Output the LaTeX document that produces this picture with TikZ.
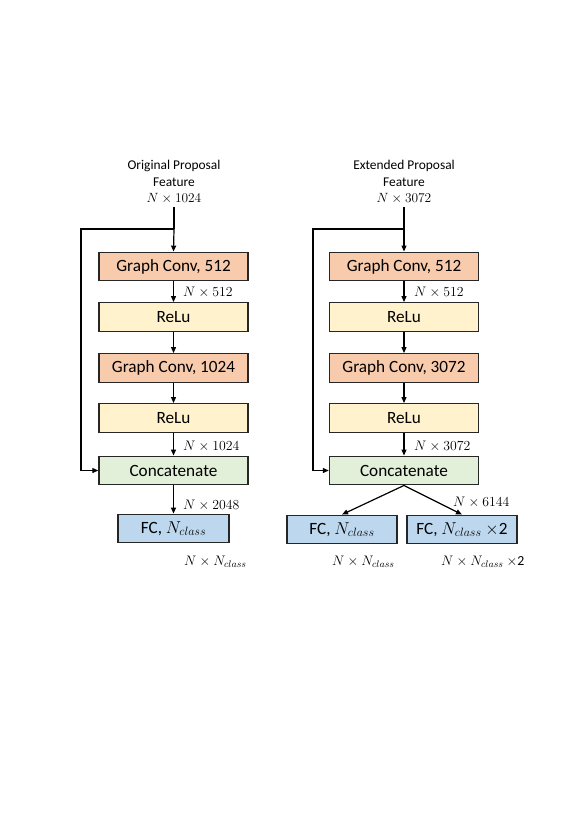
\RequirePackage{fix-cm}
\documentclass[tikz,border=0pt]{standalone}
\usepackage{fontspec}
\setmainfont{Carlito}
\usetikzlibrary{arrows.meta}
\definecolor{cconv}{HTML}{F8CBAD}
\definecolor{crelu}{HTML}{FFF2CC}
\definecolor{ccat}{HTML}{E2F0D9}
\definecolor{cfc}{HTML}{BDD7EE}
\definecolor{cline}{HTML}{262626}
\begin{document}
\begin{tikzpicture}[x=1pt,y=-1pt,
  blk/.style={draw=cline,line width=1.4pt,minimum height=28.5pt,inner sep=0pt,font=\fontsize{17.2}{20}\selectfont},
  wide/.style={blk,minimum width=149pt},
  fcbox/.style={blk,minimum width=110pt},
  lab/.style={font=\fontsize{13.4}{16}\selectfont,align=center,inner sep=0pt},
  mlab/.style={font=\fontsize{13.8}{16}\selectfont,inner sep=0pt,anchor=west},
  arr/.style={line width=1.2pt,draw=black,-{Triangle[length=6pt,width=5pt]}},
  ln/.style={line width=1.2pt,draw=black}]
\useasboundingbox (0,0) rectangle (575,813);
% ---------- left column ----------
\node[lab] (lt1) at (174,166) {Original Proposal};
\node[lab] (lt2) at (174,182) {Feature};
\node[lab] (lt3) at (174,198) {$N\times1024$};
\coordinate (ls) at (174,207);
\coordinate (lb) at (174,229);
\coordinate (lc) at (81,229);
\node[wide,fill=cconv] (lg1) at (173.5,266.5) {Graph Conv, 512};
\node[wide,fill=crelu] (lr1) at (173.5,317) {ReLu};
\node[wide,fill=cconv] (lg2) at (173.5,368) {Graph Conv, 1024};
\node[wide,fill=crelu] (lr2) at (173.5,418) {ReLu};
\node[wide,fill=ccat] (lcat) at (173.5,470.5) {Concatenate};
\node[fcbox,fill=cfc,minimum width=111pt] (lfc) at (173.5,528.5) {FC, $N_{class}$};
\coordinate (ld) at (81,470.5);
\draw[ln] (ls) -- (lb);
\draw[arr] (lb) -- (lg1.north);
\draw[ln] (lb) -- (lc) -- (ld);
\draw[arr] (ld) -- (lcat.west);
\draw[arr] (lg1) -- (lr1);
\draw[arr] (lr1) -- (lg2);
\draw[arr] (lg2) -- (lr2);
\draw[arr] (lr2) -- (lcat);
\draw[arr] (lcat) -- (lfc);
\node[mlab] (lm1) at (183,292) {$N\times512$};
\node[mlab] (lm2) at (183,446) {$N\times1024$};
\node[mlab] (lm3) at (183,505) {$N\times2048$};
\node[mlab] (lm4) at (184,562) {$N\times N_{class}$};
% ---------- right column ----------
\node[lab] (rt1) at (404,166) {Extended Proposal};
\node[lab] (rt2) at (404,182) {Feature};
\node[lab] (rt3) at (404,198) {$N\times3072$};
\coordinate (rs) at (404,207);
\coordinate (rb) at (404,229);
\coordinate (rc) at (313,229);
\node[wide,fill=cconv] (rg1) at (404,266.5) {Graph Conv, 512};
\node[wide,fill=crelu] (rr1) at (404,317) {ReLu};
\node[wide,fill=cconv] (rg2) at (404,368) {Graph Conv, 3072};
\node[wide,fill=crelu] (rr2) at (404,418) {ReLu};
\node[wide,fill=ccat] (rcat) at (404,470.5) {Concatenate};
\coordinate (rd) at (313,470.5);
\node[fcbox,fill=cfc] (rfc1) at (342,529.5) {FC, $N_{class}$};
\node[fcbox,fill=cfc] (rfc2) at (462,529.5) {FC, $N_{class}$ $\times$2};
\draw[ln] (rs) -- (rb);
\draw[arr] (rb) -- (rg1.north);
\draw[ln] (rb) -- (rc) -- (rd);
\draw[arr] (rd) -- (rcat.west);
\draw[arr] (rg1) -- (rr1);
\draw[arr] (rr1) -- (rg2);
\draw[arr] (rg2) -- (rr2);
\draw[arr] (rr2) -- (rcat);
\draw[arr] (rcat.south) -- (rfc1.north);
\draw[arr] (rcat.south) -- (rfc2.north);
\node[mlab] (rm1) at (414,292) {$N\times512$};
\node[mlab] (rm2) at (414,446) {$N\times3072$};
\node[mlab] (rm3) at (453,502) {$N\times6144$};
\node[mlab] (rm4) at (332,562) {$N\times N_{class}$};
\node[mlab] (rm5) at (441,562) {$N\times N_{class}$ $\times$2};
\end{tikzpicture}
\end{document}
